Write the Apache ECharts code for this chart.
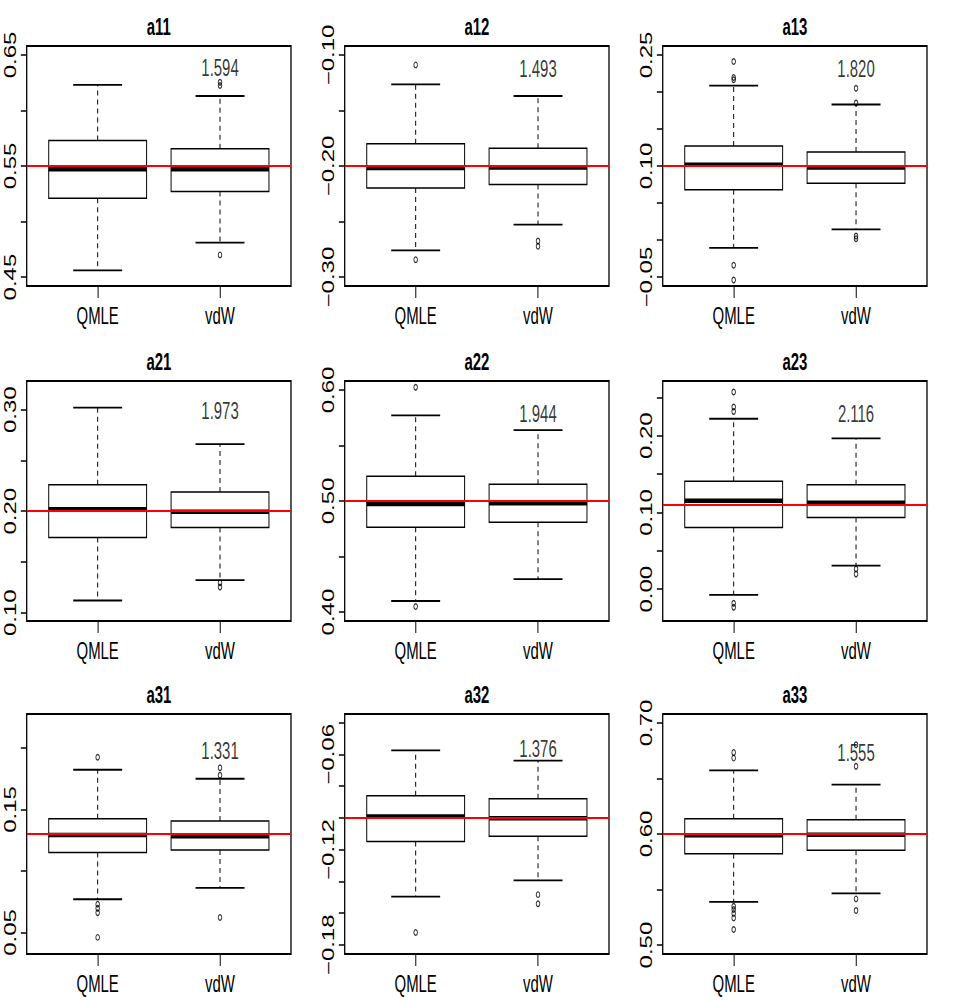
<!DOCTYPE html>
<html>
<head>
<meta charset="utf-8">
<script src="https://cdn.jsdelivr.net/npm/echarts@6/dist/echarts.min.js"></script>
<style>
html, body { margin: 0; padding: 0; background: #fff; overflow: hidden; }
/* the source picture is squeezed sideways, so draw wide and squeeze it the same way */
#main { width: 1470px; height: 1001px; transform: scaleX(0.64966); transform-origin: 0 0; }
</style>
</head>
<body>
<div id="main"></div>
<script>
var panelNames = ['a11', 'a12', 'a13', 'a21', 'a22', 'a23', 'a31', 'a32', 'a33'];
var groups = ['QMLE', 'vdW'];

// [lower whisker, Q1, median, Q3, upper whisker]
var qmleStats = [
    [0.456, 0.521, 0.547, 0.573, 0.623],
    [-0.276, -0.2197, -0.2017, -0.180, -0.1265],
    [-0.0106, 0.068, 0.1016, 0.127, 0.2084],
    [0.112, 0.174, 0.2018, 0.226, 0.302],
    [0.410, 0.4764, 0.4974, 0.5223, 0.577],
    [-0.0074, 0.0804, 0.1152, 0.1409, 0.2222],
    [0.077, 0.1149, 0.1292, 0.1424, 0.1822],
    [-0.1497, -0.1149, -0.0992, -0.0861, -0.0575],
    [0.5389, 0.5823, 0.5988, 0.6138, 0.6572]
];
var vdwStats = [
    [0.481, 0.527, 0.547, 0.5655, 0.613],
    [-0.2527, -0.2166, -0.2013, -0.184, -0.137],
    [0.0144, 0.0766, 0.098, 0.119, 0.183],
    [0.132, 0.184, 0.1995, 0.219, 0.266],
    [0.4296, 0.4809, 0.498, 0.5151, 0.5637],
    [0.0309, 0.0935, 0.1126, 0.1361, 0.1965],
    [0.0862, 0.117, 0.1281, 0.1405, 0.1749],
    [-0.1394, -0.1116, -0.1002, -0.088, -0.064],
    [0.5465, 0.5853, 0.5994, 0.6129, 0.6445]
];
var qmleOutliers = [
    [],
    [-0.109, -0.2843],
    [0.241, 0.2196, 0.2165, -0.0339, -0.054],
    [],
    [0.6024, 0.405],
    [0.257, 0.2374, 0.2317, -0.0183, -0.0235],
    [0.1924, 0.073, 0.0697, 0.066, 0.046],
    [-0.1722],
    [0.6734, 0.6683, 0.535, 0.532, 0.5284, 0.5245, 0.514]
];
var vdwOutliers = [
    [0.6254, 0.6224, 0.470],
    [-0.2675, -0.2723],
    [0.205, 0.185, 0.0055, 0.0019],
    [0.1294, 0.1254],
    [],
    [0.0265, 0.020],
    [0.1838, 0.1778, 0.0622],
    [-0.1484, -0.1541],
    [0.6803, 0.661, 0.5416, 0.5311]
];
var trueValues = [0.55, -0.20, 0.10, 0.20, 0.50, 0.11, 0.13, -0.10, 0.60];
var ratioText = ['1.594', '1.493', '1.820', '1.973', '1.944', '2.116', '1.331', '1.376', '1.555'];
var ratioAt = [0.6383, -0.112, 0.232, 0.2987, 0.5784, 0.2287, 0.1978, -0.0562, 0.6734];

var yRange = [
    [0.442, 0.658], [-0.308, -0.092], [-0.062, 0.262],
    [0.0918, 0.3283], [0.392, 0.608], [-0.0414, 0.2714],
    [0.0325, 0.2275], [-0.1858, -0.0346], [0.492, 0.708]
];
var yTicks = [
    [0.45, 0.50, 0.55, 0.60, 0.65],
    [-0.30, -0.25, -0.20, -0.15, -0.10],
    [-0.05, 0.00, 0.05, 0.10, 0.15, 0.20, 0.25],
    [0.10, 0.15, 0.20, 0.25, 0.30],
    [0.40, 0.45, 0.50, 0.55, 0.60],
    [0.00, 0.05, 0.10, 0.15, 0.20, 0.25],
    [0.05, 0.10, 0.15, 0.20],
    [-0.18, -0.16, -0.14, -0.12, -0.10, -0.08, -0.06, -0.04],
    [0.50, 0.55, 0.60, 0.65, 0.70]
];
var yLabels = [
    [0.45, 0.55, 0.65],
    [-0.30, -0.20, -0.10],
    [-0.05, 0.10, 0.25],
    [0.10, 0.20, 0.30],
    [0.40, 0.50, 0.60],
    [0.00, 0.10, 0.20],
    [0.05, 0.15],
    [-0.18, -0.12, -0.06],
    [0.50, 0.60, 0.70]
];

// layout (px, before the sideways squeeze)
var colLeft = [41.1, 530.6, 1020.1];
var rowTop = [46, 381, 714];
var plotW = 406.8, plotH = 240;
var fontName = 'Liberation Sans';

function fmtTick(v) {
    return v.toFixed(2).replace('-', '\u2212');
}

function renderBox(params, api) {
    var x = api.value(0);
    var lo = api.coord([x, api.value(1)]);
    var q1 = api.coord([x, api.value(2)]);
    var md = api.coord([x, api.value(3)]);
    var q3 = api.coord([x, api.value(4)]);
    var hi = api.coord([x, api.value(5)]);
    var half = api.size([0.4, 0])[0];
    var cap = api.size([0.2, 0])[0];
    var cx = lo[0];
    return {
        type: 'group',
        children: [
            {type: 'line', shape: {x1: cx, y1: q3[1], x2: cx, y2: hi[1]}, style: {stroke: '#000', lineWidth: 1.5, lineDash: [5, 4]}},
            {type: 'line', shape: {x1: cx, y1: q1[1], x2: cx, y2: lo[1]}, style: {stroke: '#000', lineWidth: 1.5, lineDash: [5, 4]}},
            {type: 'line', shape: {x1: cx - cap, y1: hi[1], x2: cx + cap, y2: hi[1]}, style: {stroke: '#000', lineWidth: 1.8}},
            {type: 'line', shape: {x1: cx - cap, y1: lo[1], x2: cx + cap, y2: lo[1]}, style: {stroke: '#000', lineWidth: 1.8}},
            {type: 'rect', shape: {x: cx - half, y: q3[1], width: 2 * half, height: q1[1] - q3[1]}, style: {fill: '#fff', stroke: '#000', lineWidth: 1.5}},
            {type: 'line', shape: {x1: cx - half, y1: md[1], x2: cx + half, y2: md[1]}, style: {stroke: '#000', lineWidth: 4.5}}
        ]
    };
}

var grids = [], xAxes = [], yAxes = [], titles = [], series = [];

panelNames.forEach(function (name, i) {
    var r = Math.floor(i / 3), c = i % 3;
    grids.push({
        left: colLeft[c], top: rowTop[r], width: plotW, height: plotH,
        show: true, borderColor: '#000', borderWidth: 2,
        backgroundColor: 'rgba(0,0,0,0)', containLabel: false, outerBoundsMode: 'none'
    });
    titles.push({
        text: name, left: colLeft[c] + plotW / 2, top: rowTop[r] - 31,
        textAlign: 'center', padding: 0,
        textStyle: {fontFamily: fontName, fontSize: 23, fontWeight: 'bold', color: '#000'}
    });
    xAxes.push({
        type: 'value', gridIndex: i, min: 0.42, max: 2.58,
        axisLine: {show: false, onZero: false}, splitLine: {show: false},
        axisTick: {show: true, length: 12, customValues: [1, 2], lineStyle: {color: '#000', width: 1.5}},
        axisLabel: {
            customValues: [1, 2], margin: 18, fontSize: 23, fontFamily: fontName, color: '#000',
            formatter: function (v) { return groups[Math.round(v) - 1]; }
        }
    });
    yAxes.push({
        type: 'value', gridIndex: i, min: yRange[i][0], max: yRange[i][1],
        axisLine: {show: false, onZero: false}, splitLine: {show: false},
        axisTick: {show: true, length: 9, customValues: yTicks[i], lineStyle: {color: '#000', width: 1.5}},
        axisLabel: {
            customValues: yLabels[i], rotate: 90, margin: 13, fontSize: 24, fontFamily: fontName, color: '#000',
            formatter: fmtTick
        }
    });

    series.push({
        type: 'custom', xAxisIndex: i, yAxisIndex: i, z: 2, silent: true,
        renderItem: renderBox,
        encode: {x: 0, y: [1, 2, 3, 4, 5]},
        data: [[1].concat(qmleStats[i]), [2].concat(vdwStats[i])]
    });

    var pts = qmleOutliers[i].map(function (v) { return [1, v]; })
        .concat(vdwOutliers[i].map(function (v) { return [2, v]; }));
    series.push({
        type: 'scatter', xAxisIndex: i, yAxisIndex: i, z: 3, silent: true,
        symbol: 'circle', symbolSize: 5.5,
        itemStyle: {color: 'rgba(0,0,0,0)', borderColor: '#000', borderWidth: 1.4},
        emphasis: {disabled: true},
        data: pts
    });

    series.push({
        type: 'scatter', xAxisIndex: i, yAxisIndex: i, z: 5, silent: true,
        symbolSize: 1, itemStyle: {color: 'rgba(0,0,0,0)'},
        emphasis: {disabled: true},
        label: {
            show: true, position: 'inside', fontSize: 23, fontFamily: fontName, color: '#000',
            formatter: ratioText[i]
        },
        data: [[2, ratioAt[i]]],
        markLine: {
            silent: true, symbol: ['none', 'none'], label: {show: false},
            lineStyle: {color: '#ff0000', width: 2.2, type: 'solid'},
            emphasis: {disabled: true},
            data: [{yAxis: trueValues[i]}]
        }
    });
});

var chart = echarts.init(document.getElementById('main'), null, {renderer: 'svg'});
chart.setOption({
    animation: false,
    backgroundColor: '#fff',
    textStyle: {fontFamily: fontName},
    title: titles,
    grid: grids,
    xAxis: xAxes,
    yAxis: yAxes,
    series: series
});
</script>
</body>
</html>
